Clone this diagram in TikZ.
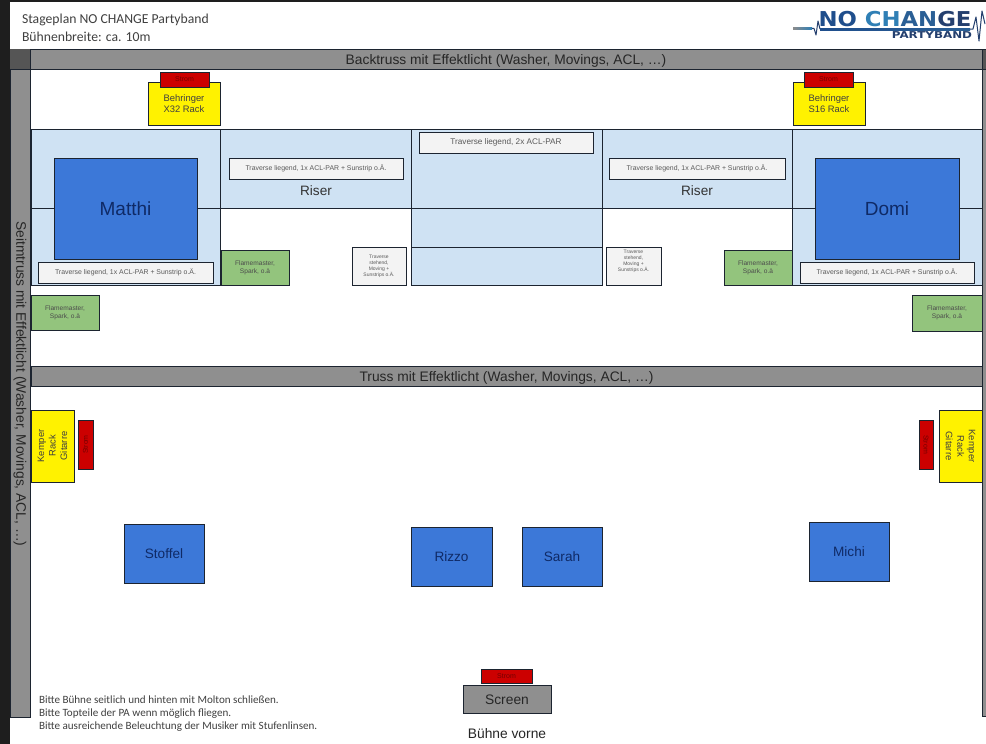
\documentclass[tikz,border=0pt]{standalone}
\usepackage{fontspec}
\setmainfont{Liberation Sans}
\newfontfamily\carl{Carlito}
\newfontfamily\logofont{DejaVu Sans Bold}
\definecolor{frame}{HTML}{1E1E1E}
\definecolor{trussgray}{HTML}{8F8F8F}
\definecolor{cornergray}{HTML}{555555}
\definecolor{stageblue}{HTML}{CFE2F3}
\definecolor{bandblue}{HTML}{3C78D8}
\definecolor{navy}{HTML}{0F2A66}
\definecolor{flamegreen}{HTML}{93C47D}
\definecolor{redbox}{HTML}{CC0000}
\definecolor{softwhite}{HTML}{F3F3F3}
\definecolor{outline}{HTML}{1C2430}
\definecolor{logoA}{HTML}{1F4E8C}
\definecolor{logoB}{HTML}{2F7FB5}
\definecolor{logoC}{HTML}{2A5F95}
\definecolor{logoD}{HTML}{243F6E}
\tikzset{
  bx/.style={draw=outline,line width=1pt,inner sep=0pt,outer sep=0pt,align=center,anchor=center},
  truss/.style={bx,fill=trussgray,text=black!85,font=\fontsize{13.8}{16}\selectfont},
  stage/.style={bx,fill=stageblue},
  band/.style={bx,fill=bandblue,text=navy},
  bandbig/.style={band,font=\fontsize{19}{22}\selectfont},
  bandsmall/.style={band,font=\fontsize{13.6}{16}\selectfont},
  rack/.style={bx,fill=yellow,text=black!75,font=\fontsize{9.4}{11.5}\selectfont},
  power/.style={bx,fill=redbox,text=red!45!black,font=\fontsize{7}{8}\selectfont},
  flame/.style={bx,fill=flamegreen,text=black!70,font=\fontsize{6.6}{8}\selectfont},
  trav/.style={bx,fill=softwhite,text=black!65,font=\fontsize{6.9}{8}\selectfont},
  travtiny/.style={bx,fill=softwhite,text=black!65,font=\fontsize{5}{6}\selectfont},
  plain/.style={inner sep=0pt,outer sep=0pt,align=center},
  note/.style={inner sep=0pt,outer sep=0pt,anchor=west,text=black!75,font=\carl\fontsize{11.1}{13}\selectfont},
  head/.style={inner sep=0pt,outer sep=0pt,anchor=west,text=black!75,font=\carl\fontsize{13.7}{16}\selectfont},
}
% \bxn{style}{name}{x1}{y1}{x2}{y2}{text}
\newcommand{\bxn}[7]{%
  \pgfmathsetmacro{\bw}{#5-#3}\pgfmathsetmacro{\bh}{#6-#4}%
  \pgfmathsetmacro{\bcx}{(#3+#5)/2}\pgfmathsetmacro{\bcy}{(#4+#6)/2}%
  \node[#1,minimum width=\bw pt,minimum height=\bh pt] (#2) at (\bcx,\bcy) {#7};}
\begin{document}
\begin{tikzpicture}[x=1pt,y=-1pt]
\useasboundingbox (0,0) rectangle (986,744);
% page and frame
\fill[white] (0,0) rectangle (986,744);
\fill[frame] (0,0) rectangle (986,2);
\fill[frame] (0,0) rectangle (10,744);
% stage surfaces
\bxn{stage}{lbT}{31}{129}{220}{208}{}
\bxn{stage}{lbB}{31}{208}{220}{285}{}
\bxn{stage}{rsL}{220}{129}{411}{208}{}
\bxn{stage}{ctT}{411}{129}{602}{208}{}
\bxn{stage}{ctM}{411}{208}{602}{247}{}
\bxn{stage}{ctB}{411}{247}{602}{285}{}
\bxn{stage}{rsR}{602}{129}{792}{208}{}
\bxn{stage}{rbT}{792}{129}{982}{208}{}
\bxn{stage}{rbB}{792}{208}{982}{285}{}
\node[plain,font=\fontsize{13.6}{16}\selectfont,text=black!80] (riserL) at (316,191) {Riser};
\node[plain,font=\fontsize{13.6}{16}\selectfont,text=black!80] (riserR) at (697,191) {Riser};
% trusses
\bxn{truss}{backtruss}{30}{49}{982}{69}{\raisebox{-5.5pt}[0pt][0pt]{Backtruss mit Effektlicht (Washer, Movings, ACL, …)}}
\bxn{truss}{midtruss}{31}{366}{982}{386}{\raisebox{-5.5pt}[0pt][0pt]{Truss mit Effektlicht (Washer, Movings, ACL, …)}}
\bxn{truss}{sidecornerL}{10}{49}{30}{69}{}
\fill[cornergray] (sidecornerL.north west) rectangle (sidecornerL.south east);
\bxn{truss}{sideL}{10}{69}{30}{717}{}
\node[plain,rotate=-90,font=\fontsize{13.8}{16}\selectfont,text=black!85] (sideLtext) at (20,384) {Seitmtruss mit Effektlicht (Washer, Movings, ACL, …)};
\fill[cornergray] (982,49) rectangle (986,69);
\fill[trussgray] (982,69) rectangle (986,716);
\draw[outline,line width=1pt] (982,49) -- (982,716) -- (986,716);
\draw[outline,line width=1pt] (982,49) -- (986,49) (982,69) -- (986,69);
% racks at the back
\bxn{rack}{rackL}{148}{82}{220}{125}{Behringer\\X32 Rack}
\bxn{power}{powL}{160}{72}{209}{87}{Strom}
\bxn{rack}{rackR}{793}{82}{865}{125}{Behringer\\S16 Rack}
\bxn{power}{powR}{804}{72}{853}{87}{Strom}
% musicians
\bxn{bandbig}{matthi}{54}{158}{197}{259}{Matthi}
\bxn{bandbig}{domi}{815}{158}{959}{259}{Domi}
\bxn{bandsmall}{stoffel}{124}{524}{204}{583}{Stoffel}
\bxn{bandsmall}{rizzo}{411}{527}{492}{586}{Rizzo}
\bxn{bandsmall}{sarah}{522}{527}{602}{586}{Sarah}
\bxn{bandsmall}{michi}{809}{522}{889}{581}{Michi}
% traverses
\bxn{trav}{tr1}{38}{262}{213}{283}{Traverse liegend, 1x ACL-PAR + Sunstrip o.Ä.}
\bxn{trav}{tr2}{800}{262}{974}{283}{Traverse liegend, 1x ACL-PAR + Sunstrip o.Ä.}
\bxn{trav}{tr3}{229}{158}{403}{179}{Traverse liegend, 1x ACL-PAR + Sunstrip o.Ä.}
\bxn{trav}{tr4}{609}{158}{785}{179}{Traverse liegend, 1x ACL-PAR + Sunstrip o.Ä.}
\bxn{trav}{tr5}{419}{132}{593}{153}{\fontsize{8.2}{9}\selectfont Traverse liegend, 2x ACL-PAR}
\bxn{travtiny}{ts1}{352}{247}{406}{285}{Traverse\\stehend,\\Moving +\\Sunstrips o.Ä.}
\bxn{travtiny}{ts2}{606}{247}{661}{285}{Traverse\\stehend,\\Moving +\\Sunstrips o.Ä.\\[5pt]\mbox{}}
% flame effects
\bxn{flame}{fl1}{221}{250}{289}{285}{Flamemaster,\\Spark, o.ä}
\bxn{flame}{fl2}{724}{250}{792}{285}{Flamemaster,\\Spark, o.ä}
\bxn{flame}{fl3}{31}{295}{99}{330}{Flamemaster,\\Spark, o.ä}
\bxn{flame}{fl4}{912}{295}{982}{331}{Flamemaster,\\Spark, o.ä}
% Kemper racks
\bxn{rack}{kemL}{31}{410}{74}{482}{}
\node[plain,rotate=90,font=\fontsize{9.4}{11.5}\selectfont,text=black!75] (kemLt) at (kemL.center) {Kemper\\Rack\\Gitarre};
\bxn{power}{powKL}{78}{420}{93}{469}{}
\node[plain,rotate=90,font=\fontsize{7}{8}\selectfont,text=red!45!black] (powKLt) at (powKL.center) {Strom};
\bxn{rack}{kemR}{939}{410}{982}{482}{}
\node[plain,rotate=-90,font=\fontsize{9.4}{11.5}\selectfont,text=black!75] (kemRt) at (kemR.center) {Kemper\\Rack\\Gitarre};
\bxn{power}{powKR}{919}{420}{933}{469}{}
\node[plain,rotate=-90,font=\fontsize{7}{8}\selectfont,text=red!45!black] (powKRt) at (powKR.center) {Strom};
% screen
\bxn{truss}{screen}{463}{685}{551}{713}{\raisebox{-5pt}[0pt][0pt]{Screen}}
\bxn{power}{powS}{481}{669}{532}{683}{Strom}
\node[plain,font=\fontsize{13.8}{16}\selectfont,text=black!85] (front) at (507,733.5) {Bühne vorne};
% heading and notes
\node[head] (t1) at (22,20) {Stageplan NO CHANGE Partyband};
\node[head] (t2) at (22,37) {Bühnenbreite: ca. 10m};
\node[note] (n1) at (39,700) {Bitte Bühne seitlich und hinten mit Molton schließen.};
\node[note] (n2) at (39,713.5) {Bitte Topteile der PA wenn möglich fliegen.};
\node[note] (n3) at (39,727) {Bitte ausreichende Beleuchtung der Musiker mit Stufenlinsen.};
% logo
\node[plain,font=\logofont\fontsize{20.5}{21}\selectfont,xscale=1.11] (logo) at (895,19.5)
  {\color{logoA}NO \color{logoB}C\color{logoB}H\color{logoC}A\color{logoC}N\color{logoD}G\color{logoD}E};
\node[plain,font=\logofont\fontsize{9.5}{10}\selectfont,text=logoD,xscale=1.25] (logo2) at (932,35.5) {PARTYBAND};
\shade[left color=black!45,right color=logoB] (793,27.6) rectangle (812,29.2);
\draw[logoD,line width=1pt,line join=round] (812,28.4) -- (814,28.4) -- (816,35) -- (818,21) -- (820,29);
\shade[left color=logoA,right color=logoC] (820,28) rectangle (970,30);
\draw[logoD,line width=1pt,line join=round] (970,29) -- (973,29) -- (976,17) -- (979,41) -- (982,11) -- (985,24);
\end{tikzpicture}
\end{document}
